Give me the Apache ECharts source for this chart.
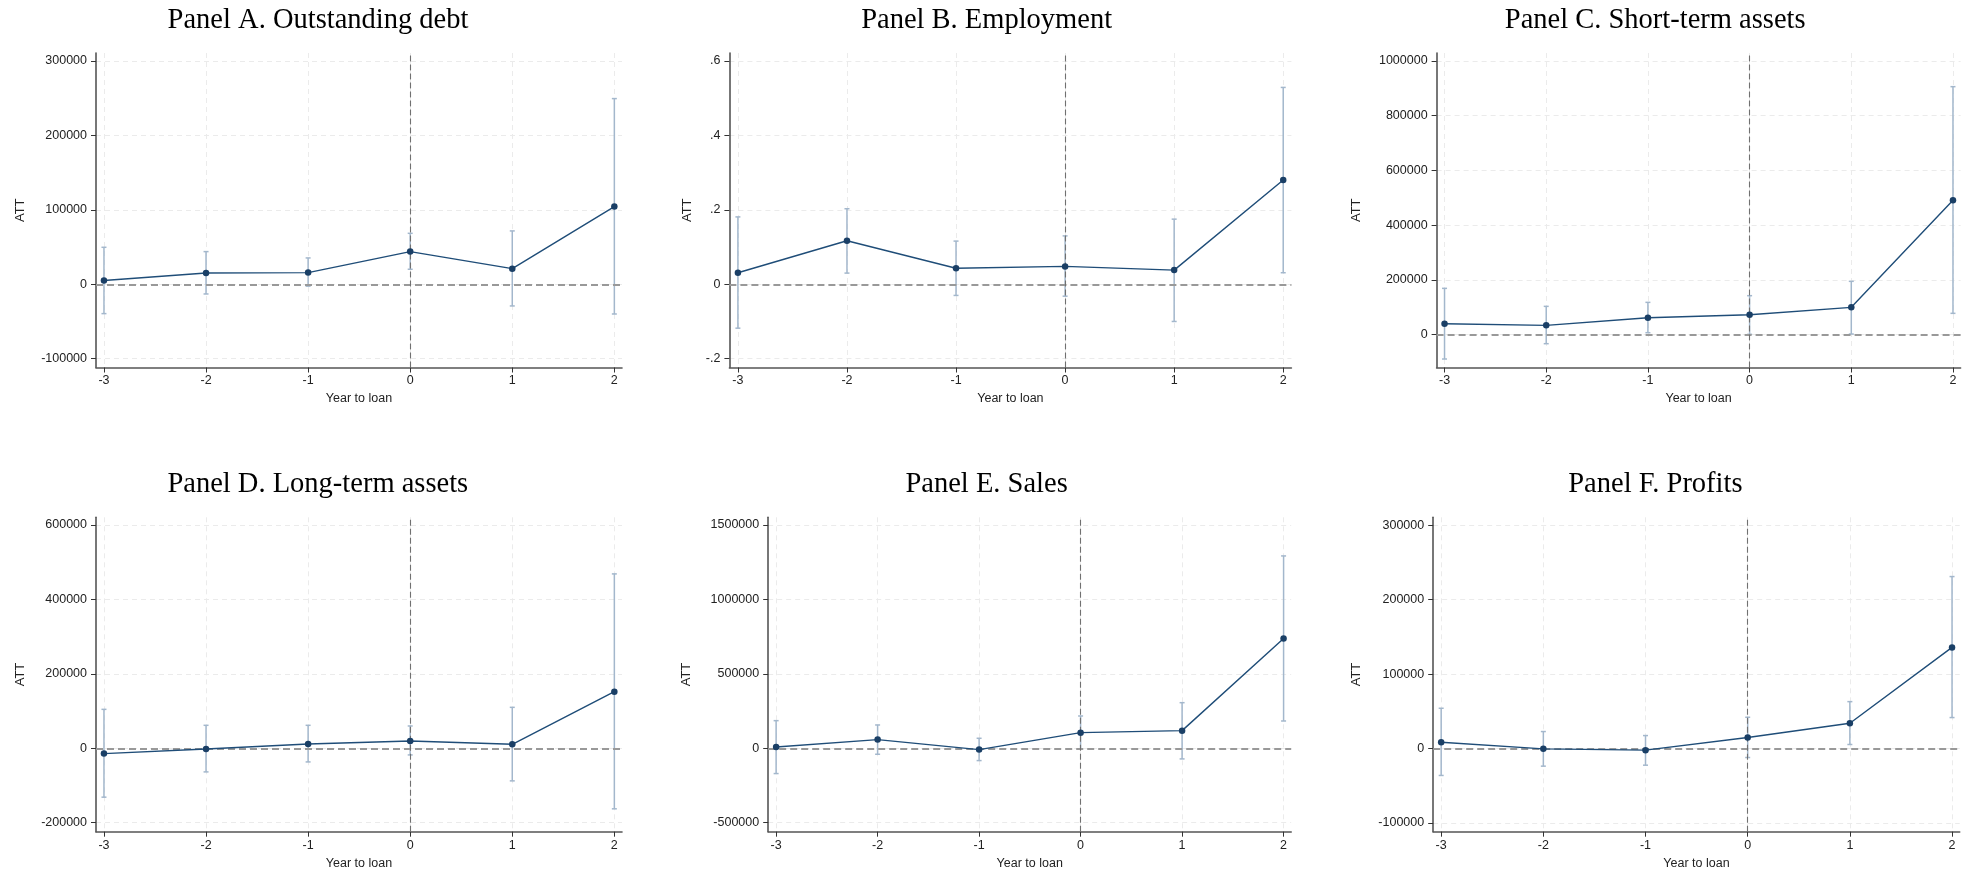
<!DOCTYPE html>
<html>
<head>
<meta charset="utf-8">
<script src="https://cdn.jsdelivr.net/npm/echarts@6/dist/echarts.min.js"></script>
<style>
html,body{margin:0;padding:0;background:#fff;}
#chart{width:1980px;height:874px;}
</style>
</head>
<body>
<div id="chart"></div>
<script>
// ---- data ----
const years = [-3, -2, -1, 0, 1, 2];

const debtATT = [5000, 15200, 15700, 43900, 21000, 104400];
const debtLo  = [-39400, -13000, -2500, 20200, -29100, -39900];
const debtHi  = [49700, 43900, 35400, 68500, 71700, 249500];
const debtTicks = [-100000, 0, 100000, 200000, 300000];

const empATT = [0.031, 0.117, 0.043, 0.048, 0.038, 0.280];
const empLo  = [-0.118, 0.030, -0.030, -0.032, -0.100, 0.031];
const empHi  = [0.181, 0.203, 0.116, 0.130, 0.175, 0.529];
const empTicks = [-0.2, 0, 0.2, 0.4, 0.6];

const stATT = [40200, 34100, 62100, 73100, 99900, 490900];
const stLo  = [-88900, -32900, 7300, 1200, 2400, 78000];
const stHi  = [169300, 103500, 118100, 142500, 194900, 906200];
const stTicks = [0, 200000, 400000, 600000, 800000, 1000000];

const ltATT = [-14300, -1800, 11600, 19700, 10700, 152000];
const ltLo  = [-131400, -63500, -36700, -17900, -87600, -162700];
const ltHi  = [104600, 61700, 61700, 59900, 110000, 468600];
const ltTicks = [-200000, 0, 200000, 400000, 600000];

const salesATT = [8900, 58100, -8900, 105100, 118500, 737700];
const salesLo  = [-169900, -40200, -82700, -4500, -71500, 183300];
const salesHi  = [185500, 156500, 67100, 216900, 306300, 1292200];
const salesTicks = [-500000, 0, 500000, 1000000, 1500000];

const profATT = [8500, -450, -2200, 14800, 34000, 135900];
const profLo  = [-36200, -23700, -22400, -12100, 5400, 41600];
const profHi  = [54100, 22800, 17400, 42000, 63000, 231100];
const profTicks = [-100000, 0, 100000, 200000, 300000];

const panelTitles = ['Panel A. Outstanding debt', 'Panel B. Employment', 'Panel C. Short-term assets',
                     'Panel D. Long-term assets', 'Panel E. Sales', 'Panel F. Profits'];
const xTitle = 'Year to loan';
const yTitle = 'ATT';

// ---- layout (positions only) ----
const layout = [
  {left: 96,     width: 526,   top: 53,    height: 314.5, tx: 318,    ty: 21,  gap: 69, ymin: -111800, ymax: 310750},
  {left: 729.4,  width: 562,   top: 53,    height: 314.5, tx: 986.6,  ty: 21,  gap: 35, ymin: -0.2237, ymax: 0.6215},
  {left: 1436.6, width: 524,   top: 53,    height: 314.5, tx: 1655.2, ty: 21,  gap: 74, ymin: -119900, ymax: 1029200},
  {left: 96,     width: 526,   top: 517.3, height: 314.4, tx: 317.8,  ty: 485, gap: 69, ymin: -224200, ymax: 620700},
  {left: 768.2,  width: 523,   top: 517.3, height: 314.4, tx: 986.6,  ty: 485, gap: 75, ymin: -560500, ymax: 1551700},
  {left: 1433.2, width: 526.5, top: 517.3, height: 314.4, tx: 1655.4, ty: 485, gap: 70, ymin: -111800, ymax: 310750}
];

const panels = [
  {att: debtATT,  lo: debtLo,  hi: debtHi,  ticks: debtTicks},
  {att: empATT,   lo: empLo,   hi: empHi,   ticks: empTicks, stata: true},
  {att: stATT,    lo: stLo,    hi: stHi,    ticks: stTicks},
  {att: ltATT,    lo: ltLo,    hi: ltHi,    ticks: ltTicks},
  {att: salesATT, lo: salesLo, hi: salesHi, ticks: salesTicks},
  {att: profATT,  lo: profLo,  hi: profHi,  ticks: profTicks}
];

const SANS = '"Liberation Sans", Arial, sans-serif';
const SERIF = '"Liberation Serif", "Times New Roman", serif';
const LINE_C = '#1f4d78';
const CI_C = '#a3b7cc';

function stataFmt(v) {
  if (v === 0) return '0';
  const s = String(Math.abs(v)).replace(/^0/, '');
  return (v < 0 ? '-' : '') + s;
}

const grids = [], xAxes = [], yAxes = [], series = [], graphics = [];

panels.forEach((p, i) => {
  const L = layout[i];
  grids.push({left: L.left, top: L.top, width: L.width, height: L.height, containLabel: false});
  xAxes.push({
    gridIndex: i, type: 'value', min: -3.078, max: 2.075,
    axisLine: {show: true, onZero: false, lineStyle: {color: '#555', width: 1.6}},
    axisTick: {show: true, length: 5, customValues: years, lineStyle: {color: '#333', width: 1}},
    axisLabel: {customValues: years, margin: 7, fontSize: 12.5, color: '#222', fontFamily: SANS},
    splitLine: {show: true, lineStyle: {color: '#ebebeb', width: 1, type: [5, 4]}},
    name: xTitle, nameLocation: 'middle', nameGap: 25,
    nameTextStyle: {fontSize: 12.5, color: '#222', fontFamily: SANS}
  });
  yAxes.push({
    gridIndex: i, type: 'value', min: L.ymin, max: L.ymax,
    axisLine: {show: true, onZero: false, lineStyle: {color: '#555', width: 1.6}},
    axisTick: {show: true, length: 5, customValues: p.ticks, lineStyle: {color: '#333', width: 1}},
    axisLabel: {customValues: p.ticks, margin: 9, fontSize: 12.5, color: '#222', fontFamily: SANS,
                formatter: p.stata ? stataFmt : (v => String(v))},
    splitLine: {show: true, lineStyle: {color: '#ebebeb', width: 1, type: [5, 4]}},
    name: yTitle, nameLocation: 'middle', nameGap: L.gap, nameRotate: 90,
    nameTextStyle: {fontSize: 13, color: '#222', fontFamily: SANS}
  });
  // confidence intervals
  series.push({
    type: 'custom', xAxisIndex: i, yAxisIndex: i, z: 2, silent: true,
    data: years.map((y, k) => [y, p.lo[k], p.hi[k]]),
    encode: {x: 0, y: [1, 2]},
    renderItem: function (params, api) {
      const x = api.value(0);
      const a = api.coord([x, api.value(1)]);
      const b = api.coord([x, api.value(2)]);
      const st = {stroke: CI_C, lineWidth: 1.5};
      const cw = 2.5;
      return {type: 'group', children: [
        {type: 'line', shape: {x1: a[0], y1: a[1], x2: b[0], y2: b[1]}, style: st},
        {type: 'line', shape: {x1: a[0] - cw, y1: a[1], x2: a[0] + cw, y2: a[1]}, style: st},
        {type: 'line', shape: {x1: b[0] - cw, y1: b[1], x2: b[0] + cw, y2: b[1]}, style: st}
      ]};
    }
  });
  // reference lines
  series.push({
    type: 'line', xAxisIndex: i, yAxisIndex: i, data: [], z: 3, silent: true,
    markLine: {
      silent: true, symbol: ['none', 'none'], label: {show: false}, z: 3,
      data: [
        {yAxis: 0, lineStyle: {color: '#999', width: 1.8, type: [7, 4]}},
        {xAxis: 0, lineStyle: {color: '#707070', width: 1.1, type: [6, 3]}}
      ]
    }
  });
  // point estimates
  series.push({
    type: 'line', xAxisIndex: i, yAxisIndex: i, z: 10, silent: true,
    data: years.map((y, k) => [y, p.att[k]]),
    symbol: 'circle', symbolSize: 6.5, showSymbol: true,
    lineStyle: {color: LINE_C, width: 1.4},
    itemStyle: {color: '#1a3f66'}
  });
  graphics.push({
    type: 'text', x: L.tx, y: L.ty, silent: true,
    style: {text: panelTitles[i], fill: '#000', font: '28.5px ' + SERIF, align: 'center', verticalAlign: 'middle'}
  });
});

const chart = echarts.init(document.getElementById('chart'), null, {renderer: 'canvas'});
chart.setOption({
  backgroundColor: '#fff',
  animation: false,
  grid: grids, xAxis: xAxes, yAxis: yAxes, series: series, graphic: graphics
});
</script>
</body>
</html>
